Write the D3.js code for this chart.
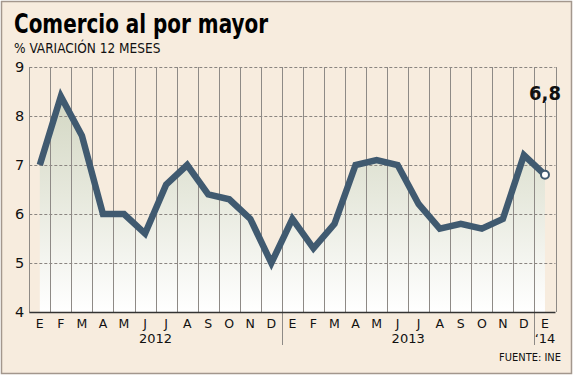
<!DOCTYPE html>
<html><head><meta charset="utf-8">
<script src="https://cdn.jsdelivr.net/npm/d3@7"></script>
<style>html,body{margin:0;padding:0;background:#fff;}svg{display:block;}</style>
</head><body>
<script>
const months = ["E","F","M","A","M","J","J","A","S","O","N","D","E","F","M","A","M","J","J","A","S","O","N","D","E"];
const years = ["2012","2013","‘14"];
const yearIdx = [0,0,0,0,0,0,0,0,0,0,0,0,1,1,1,1,1,1,1,1,1,1,1,1,2];
const values = [7.0,8.4,7.6,6.0,6.0,5.6,6.6,7.0,6.4,6.3,5.9,5.0,
                5.9,5.3,5.8,7.0,7.1,7.0,6.2,5.7,5.8,5.7,5.9,7.2,
                6.8];
const yTicks = [4,5,6,7,8,9];
const lastLabel = "6,8";

const W=574,H=376;
const svg=d3.select("body").append("svg").attr("width",W).attr("height",H);
const font="'DejaVu Sans Condensed','DejaVu Sans',sans-serif";
const fontW="'DejaVu Sans',sans-serif";

svg.append("rect").attr("x",1.5).attr("y",1.5).attr("width",570).attr("height",372)
  .attr("fill","#f7ecde").attr("stroke","#a3978d").attr("stroke-width",1.5);

const keys=months.map((m,i)=>i);
const x=d3.scaleBand().domain(keys).range([29.3,555.5]).padding(0);
const y=d3.scaleLinear().domain([4,9]).range([312,67]);
const cx=i=>x(i)+x.bandwidth()/2;

// gradient
const defs=svg.append("defs");
const g=defs.append("linearGradient").attr("id","ag").attr("x1",0).attr("y1",0).attr("x2",0).attr("y2",1);
g.append("stop").attr("offset","0%").attr("stop-color","#d3d7c3");
g.append("stop").attr("offset","45%").attr("stop-color","#e6e8dc");
g.append("stop").attr("offset","100%").attr("stop-color","#ffffff");

const area=d3.area().x((d,i)=>cx(i)).y0(y(4)).y1(d=>y(d));
svg.append("path").datum(values).attr("d",area).attr("fill","url(#ag)");

// horizontal dashed grid
svg.append("g").selectAll("line").data(yTicks.filter(t=>t>4)).join("line")
  .attr("x1",29.3).attr("x2",555.5).attr("y1",d=>y(d)+0.5).attr("y2",d=>y(d)+0.5)
  .attr("stroke","#8a8580").attr("stroke-width",1).attr("stroke-dasharray","3,2");

// vertical grid
const bounds=d3.range(months.length+1).map(i=> i<months.length? x(i) : x(months.length-1)+x.bandwidth());
svg.append("g").selectAll("line").data(bounds).join("line")
  .attr("x1",d=>Math.round(d)+0.5).attr("x2",d=>Math.round(d)+0.5)
  .attr("y1",y(9)).attr("y2",(d,i)=> (i===12||i===24)?345:y(4))
  .attr("stroke","#8e8a86").attr("stroke-width",1);

// x axis baseline
svg.append("line").attr("x1",29.3).attr("x2",555.5).attr("y1",312.5).attr("y2",312.5)
  .attr("stroke","#333").attr("stroke-width",1.5);

// y labels
svg.append("g").selectAll("text").data(yTicks).join("text")
  .attr("x",19.5).attr("y",d=>y(d)+5).attr("text-anchor","middle")
  .attr("font-family",fontW).attr("font-size",14.5).attr("fill","#111").text(d=>d);

// month labels
svg.append("g").selectAll("text").data(months).join("text")
  .attr("x",(d,i)=>cx(i)).attr("y",327.5).attr("text-anchor","middle")
  .attr("font-family",fontW).attr("font-size",12.5).attr("fill","#111").text(d=>d);

// year labels
years.forEach((yr,k)=>{
  const idx=keys.filter(i=>yearIdx[i]===k);
  const mid=(cx(idx[0])+cx(idx[idx.length-1]))/2;
  svg.append("text").attr("x",mid).attr("y",342.5).attr("text-anchor","middle")
    .attr("font-family",fontW).attr("font-size",13).attr("fill","#111").text(yr);
});

// line
const line=d3.line().x((d,i)=>cx(i)).y(d=>y(d));
svg.append("path").datum(values).attr("d",line).attr("fill","none")
  .attr("stroke","#405a70").attr("stroke-width",6.5).attr("stroke-linejoin","miter");

// last point
const li=values.length-1;
svg.append("line").attr("x1",cx(li)+0.5).attr("x2",cx(li)+0.5).attr("y1",102).attr("y2",y(values[li])-4)
  .attr("stroke","#777").attr("stroke-width",1);
svg.append("circle").attr("cx",cx(li)).attr("cy",y(values[li])).attr("r",4)
  .attr("fill","#fff").attr("stroke","#405a70").attr("stroke-width",2);
svg.append("text").attr("x",cx(li)).attr("y",100).attr("text-anchor","middle")
  .attr("font-family",font).attr("font-weight","bold").attr("font-size",20).attr("fill","#111").text(lastLabel);

// titles
svg.append("text").attr("x",14).attr("y",33).attr("font-family",font).attr("font-weight","bold")
  .attr("font-size",26).attr("fill","#000").attr("textLength",254).attr("lengthAdjust","spacingAndGlyphs")
  .text("Comercio al por mayor");
svg.append("text").attr("x",14).attr("y",53).attr("font-family",font)
  .attr("font-size",13.5).attr("fill","#111").text("% VARIACIÓN 12 MESES");
svg.append("text").attr("x",561).attr("y",361).attr("text-anchor","end").attr("font-family",font)
  .attr("font-size",11).attr("fill","#111").text("FUENTE: INE");
</script>
</body></html>
